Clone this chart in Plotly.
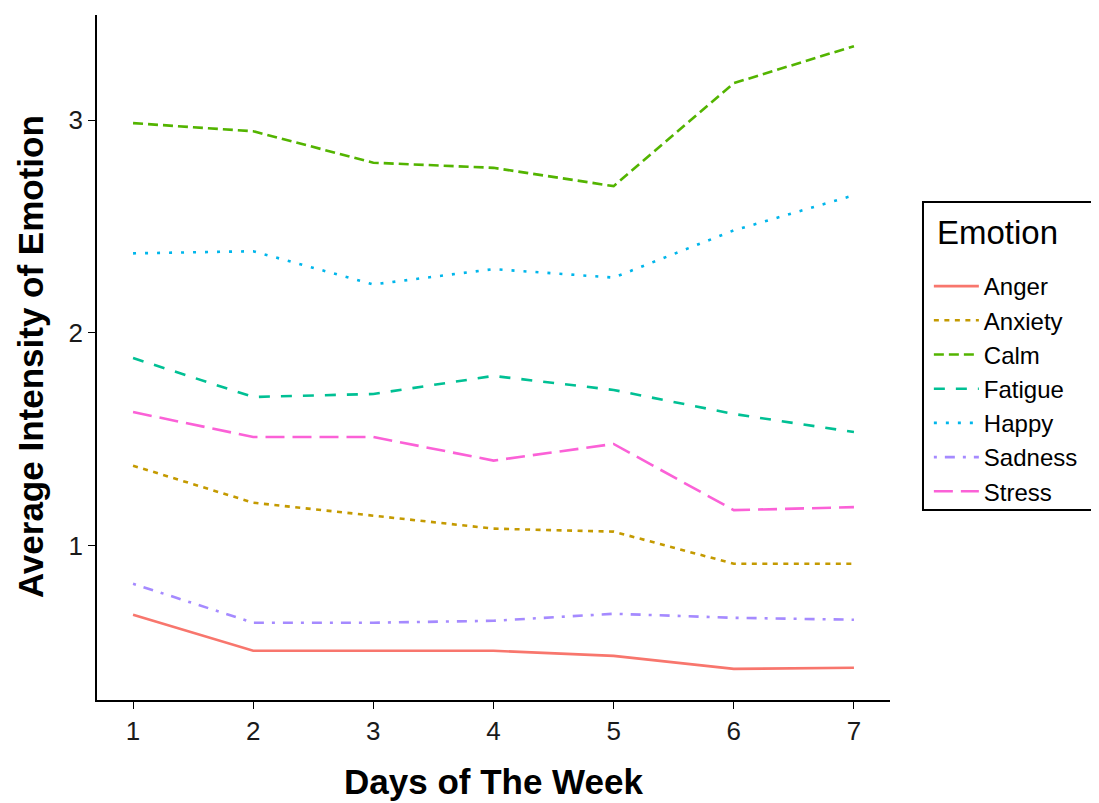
import plotly.graph_objects as go

days = [1, 2, 3, 4, 5, 6, 7]
emotions = ["Anger", "Anxiety", "Calm", "Fatigue", "Happy", "Sadness", "Stress"]
anger = [0.675, 0.506, 0.506, 0.506, 0.482, 0.421, 0.426]
anxiety = [1.376, 1.202, 1.141, 1.080, 1.066, 0.915, 0.915]
calm = [2.986, 2.948, 2.800, 2.776, 2.690, 3.174, 3.348]
fatigue = [1.882, 1.699, 1.713, 1.798, 1.732, 1.619, 1.534]
happy = [2.374, 2.384, 2.228, 2.300, 2.260, 2.482, 2.647]
sadness = [0.821, 0.638, 0.638, 0.647, 0.680, 0.661, 0.652]
stress = [1.628, 1.511, 1.511, 1.400, 1.478, 1.167, 1.181]

series = [anger, anxiety, calm, fatigue, happy, sadness, stress]
colors = ["#F8766D", "#C49A00", "#53B400", "#00C094", "#00B6EB", "#A58AFF", "#FB61D7"]
dashes = ["solid", "5px,5.5px", "10px,5px", "11px,11px", "3px,9px", "3px,8px,10px,8px", "19px,8px"]

fig = go.Figure()
for name, vals, c, d in zip(emotions, series, colors, dashes):
    fig.add_trace(go.Scatter(x=days, y=vals, mode="lines", name=name,
                             line=dict(color=c, width=2.6, dash=d)))

allv = [v for s in series for v in s]
lo, hi = min(allv), max(allv)
pad = (hi - lo) * 0.05

font = "Liberation Sans, Arial, sans-serif"
axis_common = dict(showgrid=False, zeroline=False, automargin=False,
                   showline=True, linecolor="black", linewidth=1.5,
                   ticks="outside", ticklen=7, tickcolor="black", tickwidth=1.2,
                   tickfont=dict(size=26, color="#1a1a1a"))
fig.update_layout(
    width=1091, height=795,
    margin=dict(l=89, r=209, t=7, b=103),
    plot_bgcolor="white", paper_bgcolor="white",
    font=dict(family=font, color="black"),
    xaxis=dict(range=[0.7, 7.3], tickvals=days, **axis_common),
    yaxis=dict(range=[lo - pad, hi + pad], tickvals=[1, 2, 3], **axis_common),
    legend=dict(x=1.049, y=0.6365, xanchor="left", yanchor="top",
                borderwidth=0, bgcolor="rgba(0,0,0,0)",
                font=dict(size=24), tracegroupgap=0, itemwidth=45),
    shapes=[
        dict(type="rect", xref="paper", yref="paper", x0=1.0416, x1=1.30,
             y0=0.2774, y1=0.727, line=dict(color="black", width=2),
             fillcolor="rgba(0,0,0,0)", layer="below"),
    ],
    annotations=[
        dict(text="Emotion", xref="paper", yref="paper",
             x=1.0567, y=0.683, xanchor="left", yanchor="middle",
             showarrow=False, font=dict(size=33)),
        dict(text="<b>Days of The Week</b>", xref="paper", yref="paper",
             x=0.5, y=-0.1197, xanchor="center", yanchor="middle",
             showarrow=False, font=dict(size=35)),
        dict(text="<b>Average Intensity of Emotion</b>", xref="paper", yref="paper",
             x=-0.0845, y=0.502, xanchor="center", yanchor="middle", textangle=-90,
             showarrow=False, font=dict(size=35)),
    ],
)

fig.write_html("out.html")
